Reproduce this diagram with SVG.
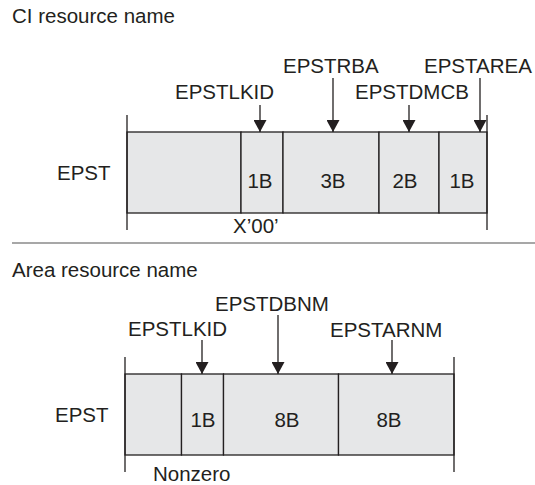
<svg xmlns="http://www.w3.org/2000/svg" width="535" height="485" viewBox="0 0 535 485">
<style>
text{font-family:"Liberation Sans",Arial,sans-serif;font-size:20.5px;fill:#231f20}
.c{text-anchor:middle}
.cell{fill:#e6e7e8;stroke:#231f20;stroke-width:1.3}
.ext{stroke:#231f20;stroke-width:1.3;fill:none}
.arr{stroke:#231f20;stroke-width:1.3;fill:none;marker-end:url(#ah)}
.sep{stroke:#8a8a8a;stroke-width:1.6}
</style>
<defs>
<marker id="ah" viewBox="0 0 12 13" refX="12" refY="6.5" markerWidth="12" markerHeight="13" markerUnits="userSpaceOnUse" orient="auto">
<path d="M0,0 L12,6.5 L0,13 Z" fill="#231f20"/>
</marker>
</defs>
<rect width="535" height="485" fill="#fff"/>

<g id="ci-section">
<text x="12" y="23">CI resource name</text>
<g id="ci-epst">
<text x="57" y="180">EPST</text>
<rect class="cell" x="127" y="132" width="114" height="81"/>
<rect class="cell" x="241" y="132" width="42" height="81"/>
<rect class="cell" x="283" y="132" width="96" height="81"/>
<rect class="cell" x="379" y="132" width="60" height="81"/>
<rect class="cell" x="439" y="132" width="48" height="81"/>
<text class="c" x="260" y="188">1B</text>
<text class="c" x="333" y="188">3B</text>
<text class="c" x="405" y="188">2B</text>
<text class="c" x="462" y="188">1B</text>
<line class="ext" x1="127" y1="115" x2="127" y2="230"/>
<line class="ext" x1="487" y1="115" x2="487" y2="230"/>
<text x="233" y="233">X’00’</text>
</g>
<g id="ci-labels">
<text x="175" y="99">EPSTLKID</text>
<text x="283" y="73">EPSTRBA</text>
<text x="355" y="99">EPSTDMCB</text>
<text x="424" y="73">EPSTAREA</text>
</g>
</g>

<line class="sep" x1="12" y1="243" x2="535" y2="243"/>

<g id="area-section">
<text x="12" y="277">Area resource name</text>
<g id="area-epst">
<text x="55" y="422">EPST</text>
<rect class="cell" x="125" y="374" width="56.5" height="81"/>
<rect class="cell" x="181.5" y="374" width="42" height="81"/>
<rect class="cell" x="223.5" y="374" width="115" height="81"/>
<rect class="cell" x="338.5" y="374" width="115.5" height="81"/>
<text class="c" x="203" y="427">1B</text>
<text class="c" x="287" y="427">8B</text>
<text class="c" x="389" y="427">8B</text>
<line class="ext" x1="125" y1="357" x2="125" y2="472"/>
<line class="ext" x1="454" y1="357" x2="454" y2="472"/>
<text x="153" y="481">Nonzero</text>
</g>
<g id="area-labels">
<text x="128" y="336">EPSTLKID</text>
<text x="215" y="311">EPSTDBNM</text>
<text x="330" y="337">EPSTARNM</text>
</g>
</g>

<g id="connectors">
<line class="arr" x1="260" y1="105" x2="260" y2="132"/>
<line class="arr" x1="333" y1="78" x2="333" y2="132"/>
<line class="arr" x1="409" y1="105" x2="409" y2="132"/>
<line class="arr" x1="480" y1="78" x2="480" y2="132"/>
<line class="arr" x1="202" y1="340" x2="202" y2="374"/>
<line class="arr" x1="278" y1="315" x2="278" y2="374"/>
<line class="arr" x1="392" y1="340" x2="392" y2="374"/>
</g>
</svg>
